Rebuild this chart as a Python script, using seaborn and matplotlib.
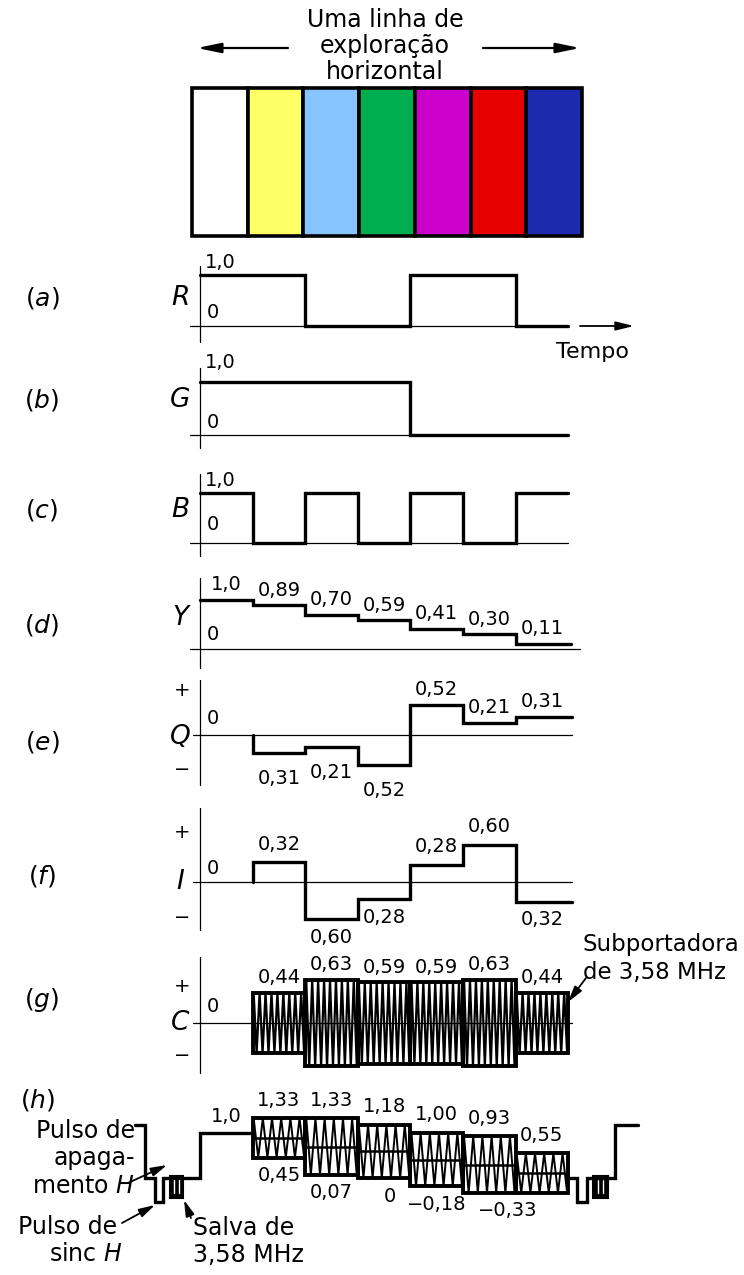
import numpy as np
import pandas as pd
import matplotlib
matplotlib.use("Agg")
import matplotlib.pyplot as plt
from matplotlib.patches import Rectangle
import seaborn as sns

sns.set_theme(style="white")
plt.rcParams['font.family'] = ['DejaVu Sans']
plt.rcParams['mathtext.fontset'] = 'dejavusans'
plt.rcParams['text.color'] = 'black'

# ---------------- data ----------------
bar_names = ["Branco", "Amarelo", "Ciano", "Verde", "Magenta", "Vermelho", "Azul"]
bar_colors = ["#ffffff", "#ffff66", "#88c4ff", "#00ad4f", "#cc00cc", "#e80000", "#1c2ab0"]

R_vals = [1, 1, 0, 0, 1, 1, 0]
G_vals = [1, 1, 1, 1, 0, 0, 0]
B_vals = [1, 0, 1, 0, 1, 0, 1]
Y_vals = [1.0, 0.89, 0.70, 0.59, 0.41, 0.30, 0.11]
Q_vals = [0.0, -0.31, -0.21, -0.52, 0.52, 0.21, 0.31]
I_vals = [0.0, 0.32, -0.60, -0.28, 0.28, 0.60, -0.32]
C_vals = [0.0, 0.44, 0.63, 0.59, 0.59, 0.63, 0.44]

Y_labels = ["1,0", "0,89", "0,70", "0,59", "0,41", "0,30", "0,11"]
Q_labels = ["", "0,31", "0,21", "0,52", "0,52", "0,21", "0,31"]
I_labels = ["", "0,32", "0,60", "0,28", "0,28", "0,60", "0,32"]
C_labels = ["", "0,44", "0,63", "0,59", "0,59", "0,63", "0,44"]
H_top_labels = ["1,0", "1,33", "1,33", "1,18", "1,00", "0,93", "0,55"]
H_bot_labels = ["", "0,45", "0,07", "0", "\u22120,18", "\u22120,33", ""]

# blanking / sync intervals of the composite signal (time in segment units, level)
blank_left_t = [-1.24, -1.05, -0.86, -0.70, 0.0, 1.0]
blank_left_v = [1.18, 0.0, -0.53, 0.0, 1.0, 1.0]
blank_right_t = [7.0, 7.17, 7.36, 7.89, 8.33]
blank_right_v = [0.0, -0.53, 0.0, 1.18, 1.18]
burst_t = [(-0.57, -0.32), (7.47, 7.76)]
burst_v = (-0.45, 0.05)

# ---------------- layout ----------------
W, H = 744, 1275
X0, PX = 200.0, 52.6
fig = plt.figure(figsize=(W / 100, H / 100), dpi=100)
fig.patch.set_facecolor("white")

ov = fig.add_axes([0, 0, 1, 1])
ov.set_xlim(0, W)
ov.set_ylim(H, 0)
ov.axis("off")
ov.patch.set_alpha(0)
ov.set_zorder(10)

THICK = 2.4
THIN = 0.9


def panel(top, bottom, zero, ppu):
    ax = fig.add_axes([0, 1 - bottom / H, 1, (bottom - top) / H])
    ax.set_xlim(-X0 / PX, (W - X0) / PX)
    ax.set_ylim((zero - bottom) / ppu, (zero - top) / ppu)
    ax.axis("off")
    ax.patch.set_alpha(0)
    return ax


def steps(vals, start=0, ext=0.0):
    xs, ys = [], []
    if start > 0:
        xs.append(start)
        ys.append(0.0)
    for i in range(start, len(vals)):
        xs.append(float(i))
        ys.append(vals[i])
    xs.append(len(vals) + ext)
    ys.append(vals[-1])
    return pd.DataFrame({"t": xs, "v": ys})


def draw_steps(ax, df, lw=THICK):
    sns.lineplot(data=df, x="t", y="v", drawstyle="steps-post", estimator=None,
                 sort=False, color="black", lw=lw, ax=ax, legend=False)
    for ln in ax.lines:
        ln.set_clip_on(False)
        ln.set_solid_joinstyle("miter")


def zigzag(ax, x0, x1, lo, hi, half, lw, color="black", z=3):
    n = max(1, int(round((x1 - x0) / half)))
    xs = np.linspace(x0, x1, n + 1)
    ys = np.where(np.arange(n + 1) % 2 == 0, hi, lo)
    ax.plot(xs, ys, color=color, lw=lw, zorder=z, clip_on=False)


def label(ax, txt, x, v, dy, dx=0, size=14):
    ax.annotate(txt, xy=(x, v), xytext=(dx * 0.72, dy * 0.72), textcoords="offset points",
                ha="center", va="center", fontsize=size, annotation_clip=False)


def arrow(x0, y0, x1, y1, lw=1.3, hw=0.35, hl=0.9):
    ov.annotate("", xy=(x1, y1), xytext=(x0, y0),
                arrowprops=dict(arrowstyle=f"-|>,head_width={hw},head_length={hl}",
                                color="black", lw=lw, shrinkA=0, shrinkB=0))


# ---------------- title and colour bars ----------------
for txt, yy in [("Uma linha de", 20), ("exploração", 46), ("horizontal", 72)]:
    ov.text(385, yy, txt, ha="center", va="center", fontsize=17)
arrow(288, 48, 197, 48, lw=1.6, hw=0.25, hl=1.2)
arrow(483, 48, 580, 48, lw=1.6, hw=0.25, hl=1.2)

axc = fig.add_axes([192 / W, 1 - 236 / H, 390 / W, 148 / H])
sns.barplot(x=bar_names, y=[1] * 7, hue=bar_names, palette=bar_colors, saturation=1,
            width=1, edgecolor="black", linewidth=2.6, legend=False, ax=axc)
axc.set_xlim(-0.5, 6.5)
axc.set_ylim(0, 1)
axc.axis("off")
for p in axc.patches:
    p.set_clip_on(False)

# ---------------- panel frames (axes lines) ----------------
frames = {
    # name: (axis top, axis bottom, zero y, baseline x0, baseline x1)
    "a": (266, 342, 326, 190, 566),
    "b": (368, 448, 435, 190, 566),
    "c": (474, 556, 543, 190, 568),
    "d": (578, 668, 649, 190, 580),
    "e": (680, 785, 735, 193, 572),
    "f": (808, 930, 882, 193, 572),
    "g": (957, 1073, 1023, 193, 572),
}
for k, (t, b, z, bx0, bx1) in frames.items():
    ov.plot([X0, X0], [t, b], color="black", lw=THIN)
    ov.plot([bx0, bx1], [z, z], color="black", lw=THIN)

# panel letters and channel names
for txt, yy in [("a", 298), ("b", 400), ("c", 510), ("d", 625), ("e", 742),
                ("f", 876), ("g", 1000)]:
    ov.text(42, yy, f"(${{\\mathit{{{txt}}}}}$)", ha="center", va="center", fontsize=18)
ov.text(38, 1100, r"($\mathit{h}$)", ha="center", va="center", fontsize=18)
for txt, yy in [("R", 298), ("G", 400), ("B", 510), ("Y", 618), ("Q", 737),
                ("I", 882), ("C", 1023)]:
    ov.text(180, yy, txt, ha="center", va="center", fontsize=19, style="italic")
for yy in [262, 362, 480]:
    ov.text(205, yy, "1,0", ha="left", va="center", fontsize=14)
for yy in [312, 422, 525, 635, 718, 868, 1007]:
    ov.text(207, yy, "0", ha="left", va="center", fontsize=14)
for yy in [690, 833, 986]:
    ov.text(182, yy, "+", ha="center", va="center", fontsize=14)
for yy in [770, 917, 1055]:
    ov.text(182, yy, "\u2212", ha="center", va="center", fontsize=14)

# ---------------- (a) (b) (c) ----------------
axa = panel(250, 350, 326, 51)
draw_steps(axa, steps(R_vals))
arrow(580, 326, 634, 326, lw=1.3, hw=0.22, hl=0.9)
ov.text(593, 352, "Tempo", ha="center", va="center", fontsize=16)

axb = panel(355, 455, 435, 53)
draw_steps(axb, steps(G_vals))

axcB = panel(465, 560, 543, 50)
draw_steps(axcB, steps(B_vals))

# ---------------- (d) Y ----------------
axd = panel(570, 672, 649, 49)
draw_steps(axd, steps(Y_vals, 0, 0.06))
for i, (v, t) in enumerate(zip(Y_vals, Y_labels)):
    label(axd, t, i + 0.5, v, 15)

# ---------------- (e) Q ----------------
axe = panel(675, 800, 735, 57)
draw_steps(axe, steps(Q_vals, 1, 0.07))
for i, (v, t) in enumerate(zip(Q_vals, Q_labels)):
    if t:
        label(axe, t, i + 0.5, v, 16 if v > 0 else -26)

# ---------------- (f) I ----------------
axf = panel(800, 945, 882, 62)
draw_steps(axf, steps(I_vals, 1, 0.07))
for i, (v, t) in enumerate(zip(I_vals, I_labels)):
    if t:
        label(axf, t, i + 0.5, v, 18 if v > 0 else -18)

# ---------------- (g) C ----------------
axg = panel(950, 1080, 1023, 69)
for i, (a, t) in enumerate(zip(C_vals, C_labels)):
    if a <= 0:
        continue
    zigzag(axg, i + 0.02, i + 0.98, -a, a, 0.055, 1.6)
    axg.add_patch(Rectangle((i, -a), 1, 2 * a, fill=False, ec="black", lw=2.8,
                            zorder=4, clip_on=False, joinstyle="miter"))
    label(axg, t, i + 0.5, a, 15)
ov.text(583, 944, "Subportadora", ha="left", va="center", fontsize=16.5)
ov.text(583, 972, "de 3,58 MHz", ha="left", va="center", fontsize=16.5)
arrow(586, 978, 568, 1002, lw=1.3, hw=0.22, hl=0.8)

# ---------------- (h) composite ----------------
axh = panel(1085, 1235, 1178, 45)
draw_steps(axh, pd.DataFrame({"t": blank_left_t, "v": blank_left_v}))
axh2 = panel(1085, 1235, 1178, 45)
draw_steps(axh2, pd.DataFrame({"t": blank_right_t, "v": blank_right_v}))
for (t0, t1) in burst_t:
    axh.add_patch(Rectangle((t0, burst_v[0]), t1 - t0, burst_v[1] - burst_v[0],
                            fc="black", ec="black", lw=1.5, zorder=4, clip_on=False))
    for xx in np.linspace(t0, t1, 4)[1:-1]:
        axh.plot([xx, xx], [burst_v[0] + 0.12, burst_v[1] - 0.1], color="white",
                 lw=1.0, zorder=5, clip_on=False)

ytrace = []
for i in range(1, 7):
    y, c = Y_vals[i], C_vals[i]
    zigzag(axh, i + 0.02, i + 0.98, y - c, y + c, 0.085, 1.4)
    axh.add_patch(Rectangle((i, y - c), 1, 2 * c, fill=False, ec="black", lw=2.8,
                            zorder=4, clip_on=False, joinstyle="miter"))
    ytrace.append(y)
yd = pd.DataFrame({"t": list(range(1, 8)), "v": ytrace + [ytrace[-1]]})
sns.lineplot(data=yd, x="t", y="v", drawstyle="steps-post", estimator=None, sort=False,
             color="black", lw=1.8, ax=axh, legend=False)

label(axh, H_top_labels[0], 0.5, Y_vals[0], 16)
for i in range(1, 7):
    label(axh, H_top_labels[i], i + 0.5, Y_vals[i] + C_vals[i], 18)
    if H_bot_labels[i]:
        dx = 18 if i == 5 else (6 if i == 3 else 0)
        label(axh, H_bot_labels[i], i + 0.5, Y_vals[i] - C_vals[i], -18, dx=dx)

for txt, yy in [("Pulso de", 1131), ("apaga-", 1158), (r"mento $\mathit{H}$", 1186)]:
    ov.text(135, yy, txt, ha="right", va="center", fontsize=17)
ov.text(18, 1227, "Pulso de", ha="left", va="center", fontsize=17)
ov.text(122, 1254, r"sinc $\mathit{H}$", ha="right", va="center", fontsize=17)
ov.text(193, 1228, "Salva de", ha="left", va="center", fontsize=17)
ov.text(193, 1255, "3,58 MHz", ha="left", va="center", fontsize=17)
arrow(128, 1183, 167, 1165, lw=1.3, hw=0.22, hl=0.8)
arrow(122, 1223, 155, 1205, lw=1.3, hw=0.22, hl=0.8)
arrow(191, 1218, 184, 1200, lw=1.3, hw=0.22, hl=0.8)

fig.savefig("out.png", dpi=100, facecolor="white")
